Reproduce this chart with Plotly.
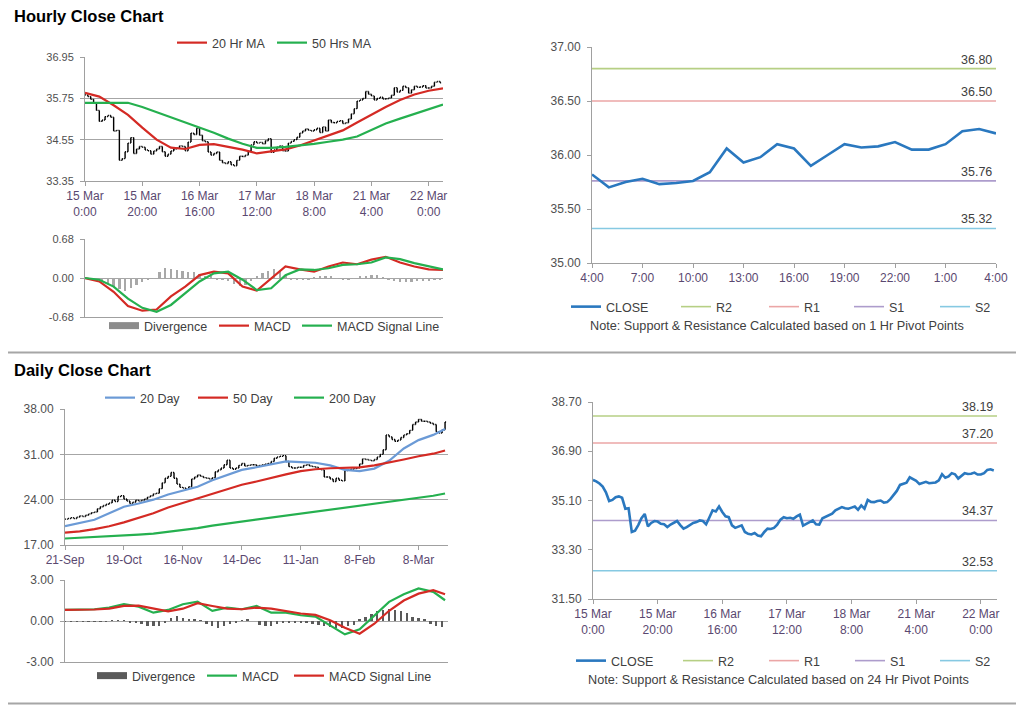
import plotly.graph_objects as go

# page is rendered with an 8px body margin; figure sized to fit the window
OFF = 8
W, H = 1024 - OFF, 706 - OFF

# ---------------- data ----------------
# hourly closes, 15 Mar 0:00 ... 22 Mar 4:00 (trading hours)
hourly_close = [
    35.85, 35.80, 35.72, 35.61, 35.40, 35.08, 35.12, 35.22, 35.25, 35.20,
    34.80, 34.82, 33.95, 34.00, 34.20, 34.45, 34.61, 34.15, 34.28, 34.35,
    34.33, 34.25, 34.23, 34.13, 34.22, 34.28, 34.35, 34.20, 34.07, 34.13,
    34.22, 34.28, 34.31, 34.37, 34.35, 34.23, 34.48, 34.74, 34.70, 34.88,
    34.68, 34.52, 34.49, 34.19, 34.10, 34.15, 34.19, 33.95, 33.88, 33.86,
    33.91, 33.82, 33.79, 33.95, 34.07, 34.06, 34.10, 34.22, 34.40, 34.49,
    34.45, 34.47, 34.43, 34.52, 34.58, 34.18, 34.25, 34.33, 34.37, 34.23,
    34.22, 34.45, 34.50, 34.55, 34.62, 34.74, 34.80, 34.86, 34.82, 34.80,
    34.84, 34.88, 34.76, 34.92, 34.80, 35.12, 35.05, 35.04, 35.08, 35.10,
    35.02, 35.04, 35.15, 35.30, 35.45, 35.67, 35.70, 35.75, 35.95, 35.87,
    35.82, 35.70, 35.75, 35.78, 35.73, 35.74, 35.76, 35.84, 36.06, 35.93,
    35.98, 36.10, 36.06, 35.90, 36.00, 36.10, 36.07, 36.08, 36.12, 36.05,
    36.05, 36.10, 36.22, 36.24, 36.20,
]
hourly_tick_pos = [0, 20, 40, 60, 80, 100, 120]
hourly_tick_labels = ["15 Mar<br>0:00", "15 Mar<br>20:00", "16 Mar<br>16:00", "17 Mar<br>12:00",
                      "18 Mar<br>8:00", "21 Mar<br>4:00", "22 Mar<br>0:00"]

ma_hours = list(range(0, 126, 5))
ma20_hr = [35.91, 35.80, 35.55, 35.27, 34.90, 34.55, 34.32, 34.28, 34.40, 34.42, 34.34, 34.26, 34.15,
           34.20, 34.27, 34.38, 34.52, 34.66, 34.82, 35.05, 35.28, 35.50, 35.70, 35.86, 35.97, 36.04]
ma50_hr = [35.62, 35.62, 35.62, 35.62, 35.50, 35.35, 35.20, 35.06, 34.90, 34.75, 34.58, 34.43, 34.31,
           34.31, 34.34, 34.38, 34.43, 34.49, 34.55, 34.64, 34.84, 35.02, 35.16, 35.30, 35.43, 35.57]
macd_hr = [0.00, -0.06, -0.24, -0.49, -0.57, -0.55, -0.32, -0.15, 0.05, 0.11, 0.08, -0.15, -0.22,
           -0.01, 0.20, 0.15, 0.11, 0.20, 0.27, 0.24, 0.32, 0.37, 0.27, 0.20, 0.15, 0.14]
signal_hr = [0.00, -0.03, -0.15, -0.36, -0.52, -0.59, -0.47, -0.27, -0.06, 0.08, 0.11, -0.03, -0.21,
             -0.18, 0.05, 0.15, 0.14, 0.17, 0.23, 0.24, 0.27, 0.36, 0.33, 0.26, 0.20, 0.15]
div_hours = list(range(0, 125, 2))
div_hr = [0.00, -0.01, -0.03, -0.06, -0.10, -0.15, -0.19, -0.22, -0.18, -0.12,
          -0.07, -0.03, -0.01, 0.10, 0.17, 0.16, 0.14, 0.12, 0.11, 0.11,
          0.07, 0.04, 0.02, -0.02, -0.03, -0.06, -0.10, -0.14, -0.12, -0.06,
          0.04, 0.09, 0.13, 0.16, 0.12, 0.05, -0.02, -0.03, -0.04, -0.02,
          0.01, 0.03, 0.04, 0.02, -0.01, -0.02, -0.02, -0.01, 0.02, 0.04,
          0.05, 0.05, 0.01, -0.04, -0.06, -0.07, -0.07, -0.07, -0.06, -0.06,
          -0.05, -0.04, -0.03]
macd_hr_ticks = [-0.68, 0.0, 0.68]
macd_hr_ticktext = ["-0.68", "0.00", "0.68"]

last24_labels = ["4:00", "7:00", "10:00", "13:00", "16:00", "19:00", "22:00", "1:00", "4:00"]
pivot_names = ["R2", "R1", "S1", "S2"]
pivot_1h = [36.80, 36.50, 35.76, 35.32]
pivot_24h = [38.19, 37.20, 34.37, 32.53]

daily_close = [
    21.0, 21.1, 21.2, 21.1, 21.3, 21.5, 21.4, 21.6, 21.8, 22.0, 22.1,
    22.6, 22.9, 23.1, 23.3, 23.5, 23.9, 23.7, 24.5, 24.6, 24.1,
    23.8, 23.4, 23.6, 23.9, 23.8, 23.9, 24.1, 24.4, 24.6, 24.9,
    25.0, 25.7, 26.6, 27.3, 27.6, 28.2, 27.3, 26.4, 25.9, 25.8,
    25.6, 26.0, 27.2, 27.5, 27.8, 27.6, 27.4, 27.3, 27.2, 27.4,
    28.3, 28.6, 28.9, 29.4, 30.1, 28.9, 28.7, 28.9, 29.3, 29.6,
    29.2, 29.3, 29.4, 29.4, 29.2, 29.3, 29.4, 29.5, 29.6, 29.9,
    30.4, 30.6, 30.7, 30.8, 29.9, 29.1, 28.9, 28.9, 29.0, 29.0,
    29.3, 29.4, 29.2, 29.1, 29.0, 28.7, 28.6, 27.5, 27.5, 27.2,
    26.8, 27.3, 27.0, 26.9, 28.5, 28.6, 28.7, 28.8, 28.9, 29.5,
    30.3, 30.2, 30.1, 30.0, 30.2, 30.6, 31.0, 31.7, 34.0, 33.7,
    33.3, 33.0, 33.2, 33.6, 34.0, 34.2, 34.7, 35.6, 36.0, 36.4,
    36.1, 36.1, 36.0, 35.8, 35.6, 34.5, 34.3, 34.8, 36.0,
]
daily_tick_pos = [0, 20, 40, 60, 80, 100, 120]
daily_tick_labels = ["21-Sep", "19-Oct", "16-Nov", "14-Dec", "11-Jan", "8-Feb", "8-Mar"]
ma_days = list(range(0, 126, 5)) + [129]
ma20_d = [19.9, 20.4, 20.9, 21.9, 22.9, 23.4, 24.0, 24.8, 25.4, 26.0, 27.0, 27.8, 28.6, 29.0,
          29.5, 29.9, 29.8, 29.7, 29.3, 28.6, 28.4, 28.8, 30.0, 31.9, 33.2, 34.0, 34.9]
ma50_d = [18.9, 19.1, 19.45, 19.9, 20.5, 21.2, 21.9, 22.8, 23.5, 24.2, 24.9, 25.5, 26.3, 26.8,
          27.4, 27.9, 28.4, 28.7, 28.85, 28.9, 29.0, 29.3, 29.7, 30.2, 30.7, 31.1, 31.6]
ma200_d = [18.0, 18.1, 18.2, 18.3, 18.5, 18.6, 18.75, 19.0, 19.3, 19.6, 20.0, 20.3, 20.6, 20.9,
           21.2, 21.6, 21.9, 22.2, 22.4, 22.7, 23.0, 23.3, 23.6, 23.9, 24.3, 24.6, 24.95]
macd_d = [0.81, 0.81, 0.86, 0.98, 1.23, 1.05, 0.61, 0.81, 1.23, 1.42, 0.74, 0.98, 0.86, 1.10,
          0.61, 0.61, 0.42, 0.32, -0.32, -0.98, -0.61, 0.37, 1.40, 1.96, 2.38, 2.13, 1.52]
signal_d = [0.81, 0.81, 0.84, 0.90, 1.10, 1.12, 0.93, 0.70, 0.90, 1.30, 1.10, 0.90, 0.86, 0.98,
            0.90, 0.70, 0.55, 0.45, 0.05, -0.50, -0.93, -0.20, 0.75, 1.50, 2.00, 2.25, 1.96]
div_days = list(range(0, 129, 2))
div_d = [-0.05, -0.05, -0.05, -0.05, -0.05, -0.03, -0.05, -0.06,
         0.05, 0.06, 0.02, -0.08,
         -0.15, -0.25, -0.33, -0.38, -0.35, -0.15,
         0.2, 0.35, 0.25, 0.15, 0.1, 0.05,
         -0.2, -0.4, -0.5, -0.4, -0.2, -0.1,
         0.05, 0.08, 0.0,
         -0.3, -0.4, -0.35, -0.2, -0.15,
         -0.1, -0.1, -0.08, -0.1,
         -0.2, -0.3, -0.4, -0.45, -0.5, -0.5, -0.4, -0.3,
         0.1, 0.3, 0.5, 0.7, 0.8, 0.85, 0.8, 0.7, 0.55,
         0.3, 0.2, 0.1,
         -0.2, -0.35, -0.45]
macd_d_ticks = [-3.0, 0.0, 3.0]
macd_d_ticktext = ["-3.00", "0.00", "3.00"]

# ---------------- styling ----------------
FONT = "Liberation Sans, Arial, sans-serif"
RED = "#d42a24"
GREEN = "#25b04f"
BLUE20 = "#6b9ad6"
CLOSE_BLUE = "#2a78bf"
PIVOT_COLORS = ["#b6cf84", "#eba6a6", "#ad9ccc", "#86c9e2"]
AXC = "#a0a0a0"
XLAB = "#5a4870"
YLAB = "#505050"
LEGF = dict(family=FONT, size=12.5, color="#404040")


def px_x(p):
    return (p - OFF) / W


def px_y(p):
    return 1 - (p - OFF) / H


def bars_from_close(close):
    opens = [close[0]] + close[:-1]
    highs = [max(o, c) for o, c in zip(opens, close)]
    lows = [min(o, c) for o, c in zip(opens, close)]
    return opens, highs, lows


fig = go.Figure()

# ---- top-left: hourly bars + MAs ----
h_open, h_high, h_low = bars_from_close(hourly_close)
fig.add_trace(go.Ohlc(x=list(range(len(hourly_close))), open=h_open, high=h_high, low=h_low,
                      close=hourly_close, xaxis="x", yaxis="y", showlegend=False,
                      increasing=dict(line=dict(color="black", width=1.4)),
                      decreasing=dict(line=dict(color="black", width=1.4)),
                      tickwidth=0.35, hoverinfo="skip"))
fig.add_trace(go.Scatter(x=ma_hours, y=ma20_hr, mode="lines", name="20 Hr MA",
                         line=dict(color=RED, width=2.2), xaxis="x", yaxis="y",
                         legend="legend", legendwidth=55))
fig.add_trace(go.Scatter(x=ma_hours, y=ma50_hr, mode="lines", name="50 Hrs MA",
                         line=dict(color=GREEN, width=2.2), xaxis="x", yaxis="y",
                         legend="legend"))

# ---- top-left MACD ----
fig.add_trace(go.Bar(x=div_hours, y=div_hr, width=0.8, marker=dict(color="#a8a8a8", line=dict(width=0)),
                     xaxis="x2", yaxis="y2", showlegend=False, hoverinfo="skip"))
fig.add_trace(go.Scatter(x=[None], y=[None], mode="lines", name="Divergence",
                         line=dict(color="#8c8c8c", width=7), xaxis="x2", yaxis="y2",
                         legend="legend2", legendwidth=65))
fig.add_trace(go.Scatter(x=ma_hours, y=macd_hr, mode="lines", name="MACD",
                         line=dict(color=RED, width=2.2), xaxis="x2", yaxis="y2",
                         legend="legend2", legendwidth=38))
fig.add_trace(go.Scatter(x=ma_hours, y=signal_hr, mode="lines", name="MACD Signal Line",
                         line=dict(color=GREEN, width=2.2), xaxis="x2", yaxis="y2",
                         legend="legend2"))

# ---- top-right: last 24 hours with 1 Hr pivots ----
last_close = hourly_close[-25:]
last_x = list(range(len(last_close)))
pw1 = [43, 40, 41, 40]
for i, (nm, lvl) in enumerate(zip(pivot_names, pivot_1h)):
    fig.add_trace(go.Scatter(x=[last_x[0], last_x[-1]], y=[lvl, lvl], mode="lines", name=nm,
                             line=dict(color=PIVOT_COLORS[i], width=1.6), xaxis="x3", yaxis="y3",
                             legend="legend3", legendrank=2 + i, legendwidth=pw1[i]))
fig.add_trace(go.Scatter(x=last_x, y=last_close, mode="lines", name="CLOSE",
                         line=dict(color=CLOSE_BLUE, width=2.6), xaxis="x3", yaxis="y3",
                         legend="legend3", legendrank=1, legendwidth=65))

# ---- bottom-left: daily bars + MAs ----
d_open, d_high, d_low = bars_from_close(daily_close)
fig.add_trace(go.Ohlc(x=list(range(len(daily_close))), open=d_open, high=d_high, low=d_low,
                      close=daily_close, xaxis="x4", yaxis="y4", showlegend=False,
                      increasing=dict(line=dict(color="black", width=1.4)),
                      decreasing=dict(line=dict(color="black", width=1.4)),
                      tickwidth=0.35, hoverinfo="skip"))
fig.add_trace(go.Scatter(x=ma_days, y=ma20_d, mode="lines", name="20 Day",
                         line=dict(color=BLUE20, width=2.2), xaxis="x4", yaxis="y4",
                         legend="legend4", legendwidth=48))
fig.add_trace(go.Scatter(x=ma_days, y=ma50_d, mode="lines", name="50 Day",
                         line=dict(color=RED, width=2.2), xaxis="x4", yaxis="y4",
                         legend="legend4", legendwidth=51))
fig.add_trace(go.Scatter(x=ma_days, y=ma200_d, mode="lines", name="200 Day",
                         line=dict(color=GREEN, width=2.2), xaxis="x4", yaxis="y4",
                         legend="legend4"))

# ---- bottom-left MACD ----
fig.add_trace(go.Bar(x=div_days, y=div_d, width=0.8, marker=dict(color="#5a5a5a", line=dict(width=0)),
                     xaxis="x5", yaxis="y5", showlegend=False, hoverinfo="skip"))
fig.add_trace(go.Scatter(x=[None], y=[None], mode="lines", name="Divergence",
                         line=dict(color="#5a5a5a", width=7), xaxis="x5", yaxis="y5",
                         legend="legend5", legendwidth=65))
fig.add_trace(go.Scatter(x=ma_days, y=macd_d, mode="lines", name="MACD",
                         line=dict(color=GREEN, width=2.2), xaxis="x5", yaxis="y5",
                         legend="legend5", legendwidth=42))
fig.add_trace(go.Scatter(x=ma_days, y=signal_d, mode="lines", name="MACD Signal Line",
                         line=dict(color=RED, width=2.2), xaxis="x5", yaxis="y5",
                         legend="legend5"))

# ---- bottom-right: hourly close with 24 Hr pivots ----
hx = list(range(len(hourly_close)))
pw2 = [41, 41, 40, 40]
for i, (nm, lvl) in enumerate(zip(pivot_names, pivot_24h)):
    fig.add_trace(go.Scatter(x=[0, 125], y=[lvl, lvl], mode="lines", name=nm,
                             line=dict(color=PIVOT_COLORS[i], width=1.6), xaxis="x6", yaxis="y6",
                             legend="legend6", legendrank=2 + i, legendwidth=pw2[i]))
fig.add_trace(go.Scatter(x=hx, y=hourly_close, mode="lines", name="CLOSE",
                         line=dict(color=CLOSE_BLUE, width=2.6), xaxis="x6", yaxis="y6",
                         legend="legend6", legendrank=1, legendwidth=62))

# ---------------- axes ----------------
base = dict(showline=True, linecolor=AXC, linewidth=1, ticks="outside", ticklen=4, tickcolor=AXC,
            zeroline=False, showgrid=False, fixedrange=True, automargin=False)


def xax(dom, anchor, rng, **kw):
    d = dict(base, domain=[px_x(dom[0]), px_x(dom[1])], anchor=anchor, range=rng,
             tickfont=dict(family=FONT, size=12, color=XLAB), rangeslider=dict(visible=False))
    d.update(kw)
    return d


def yax(dom, anchor, rng, **kw):
    d = dict(base, domain=[px_y(dom[1]), px_y(dom[0])], anchor=anchor, range=rng,
             tickfont=dict(family=FONT, size=11, color=YLAB), tickformat=".2f",
             gridcolor="#a6a6a6", gridwidth=1, ticklabelstandoff=4)
    d.update(kw)
    return d


layout = dict(
    width=W, height=H, autosize=False, margin=dict(l=0, r=0, t=0, b=0, pad=0, autoexpand=False),
    paper_bgcolor="white", plot_bgcolor="rgba(0,0,0,0)", hovermode=False,
    font=dict(family=FONT, size=11, color="#404040"),
    xaxis=xax((85, 443), "y", [0, 125], tickvals=hourly_tick_pos, ticktext=hourly_tick_labels),
    yaxis=yax((57, 181), "x", [33.35, 36.95], tickvals=[33.35, 34.55, 35.75, 36.95], showgrid=True),
    xaxis2=xax((85, 443), "y2", [0, 125], showticklabels=False, ticks=""),
    yaxis2=yax((239, 317), "x2", [-0.68, 0.68], tickvals=macd_hr_ticks, ticktext=macd_hr_ticktext,
               showgrid=True),
    xaxis3=xax((592, 996), "y3", [0, 24], tickvals=list(range(0, 25, 3)), ticktext=last24_labels),
    yaxis3=yax((47, 263), "x3", [35, 37], dtick=0.5, tick0=35,
               tickfont=dict(family=FONT, size=12, color=YLAB)),
    xaxis4=xax((65, 448), "y4", [0, 130], tickvals=daily_tick_pos, ticktext=daily_tick_labels),
    yaxis4=yax((409, 545), "x4", [17, 38], dtick=7, tick0=17, showgrid=True,
               tickfont=dict(family=FONT, size=12, color=YLAB)),
    xaxis5=xax((65, 448), "y5", [0, 130], showticklabels=False, ticks=""),
    yaxis5=yax((580, 662), "x5", [-3, 3], tickvals=macd_d_ticks, ticktext=macd_d_ticktext,
               showgrid=True, tickfont=dict(family=FONT, size=12, color=YLAB)),
    xaxis6=xax((593, 997), "y6", [0, 125], tickvals=hourly_tick_pos, ticktext=hourly_tick_labels),
    yaxis6=yax((402, 599), "x6", [31.5, 38.7], dtick=1.8, tick0=31.5,
               tickfont=dict(family=FONT, size=12, color=YLAB)),
    bargap=0,
)


def leg(xp, yp):
    return dict(orientation="h", x=px_x(xp), y=px_y(yp), xanchor="left", yanchor="middle",
                bgcolor="rgba(0,0,0,0)", font=LEGF,
                itemwidth=30, tracegroupgap=0, traceorder="normal")


layout["legend"] = leg(172, 43)
layout["legend2"] = leg(104, 326)
layout["legend3"] = leg(566, 307)
layout["legend4"] = leg(100, 398)
layout["legend5"] = leg(92, 676)
layout["legend6"] = leg(571, 661)

annotations = [
    dict(text="<b>Hourly Close Chart</b>", x=px_x(12), y=px_y(16), xref="paper", yref="paper",
         xanchor="left", yanchor="middle", showarrow=False, font=dict(family=FONT, size=16.5, color="black")),
    dict(text="<b>Daily Close Chart</b>", x=px_x(12), y=px_y(370), xref="paper", yref="paper",
         xanchor="left", yanchor="middle", showarrow=False, font=dict(family=FONT, size=16.5, color="black")),
    dict(text="Note: Support & Resistance Calculated based on 1 Hr Pivot Points", x=px_x(777),
         y=px_y(326), xref="paper", yref="paper", xanchor="center", yanchor="middle", showarrow=False,
         font=dict(family=FONT, size=12.7, color="#404040")),
    dict(text="Note: Support & Resistance Calculated based on 24 Hr Pivot Points", x=px_x(778),
         y=px_y(680), xref="paper", yref="paper", xanchor="center", yanchor="middle", showarrow=False,
         font=dict(family=FONT, size=12.7, color="#404040")),
]
for lvl in pivot_1h:
    annotations.append(dict(text=f"{lvl:.2f}", x=24, y=lvl, xref="x3", yref="y3", xanchor="right",
                            yanchor="bottom", xshift=-2, yshift=0, showarrow=False,
                            font=dict(family=FONT, size=12.5, color="#404040")))
for lvl in pivot_24h:
    annotations.append(dict(text=f"{lvl:.2f}", x=125, y=lvl, xref="x6", yref="y6", xanchor="right",
                            yanchor="bottom", xshift=-2, yshift=0, showarrow=False,
                            font=dict(family=FONT, size=12.5, color="#404040")))
layout["annotations"] = annotations

layout["shapes"] = [
    dict(type="line", xref="paper", yref="paper", x0=px_x(7), x1=1, y0=px_y(352.5), y1=px_y(352.5),
         line=dict(color="#a6a6a6", width=2)),
    dict(type="line", xref="paper", yref="paper", x0=px_x(7), x1=1, y0=px_y(703.5), y1=px_y(703.5),
         line=dict(color="#a6a6a6", width=2)),
]

fig.update_layout(**layout)
fig.write_html("out.html")
